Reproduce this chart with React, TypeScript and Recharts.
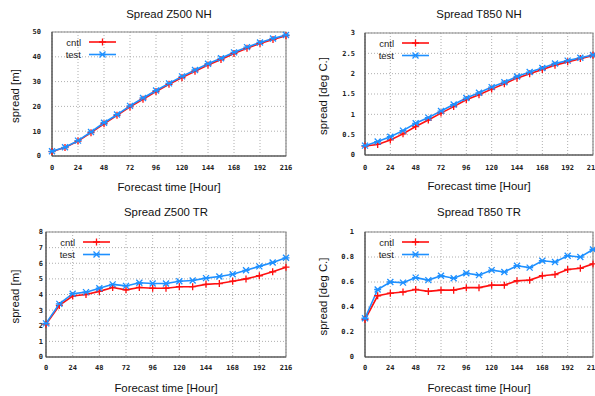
import React from 'react';
import { LineChart, Line, XAxis, YAxis, CartesianGrid, ReferenceArea, Legend } from 'recharts';

const hours = [0, 12, 24, 36, 48, 60, 72, 84, 96, 108, 120, 132, 144, 156, 168, 180, 192, 204, 216];
const xTicks = [0, 24, 48, 72, 96, 120, 144, 168, 192, 216];

const z500nhCntl = [1.8, 3.4, 6.0, 9.4, 13.0, 16.4, 19.8, 22.9, 26.0, 28.9, 31.6, 34.2, 36.7, 38.9, 41.3, 43.4, 45.4, 47.0, 48.5];
const z500nhTest = [1.9, 3.5, 6.2, 9.7, 13.4, 16.7, 20.2, 23.4, 26.4, 29.3, 32.1, 34.7, 37.2, 39.4, 41.8, 43.9, 45.8, 47.4, 48.8];
const z500nhTicks = [0, 10, 20, 30, 40, 50];

const t850nhCntl = [0.22, 0.26, 0.37, 0.52, 0.7, 0.86, 1.03, 1.19, 1.36, 1.48, 1.62, 1.75, 1.89, 2.0, 2.1, 2.21, 2.29, 2.37, 2.45];
const t850nhTest = [0.23, 0.33, 0.45, 0.6, 0.78, 0.92, 1.08, 1.24, 1.4, 1.53, 1.67, 1.79, 1.93, 2.04, 2.14, 2.25, 2.32, 2.39, 2.46];
const t850nhTicks = [0, 0.5, 1, 1.5, 2, 2.5, 3];

const z500trCntl = [2.1, 3.3, 3.9, 4.0, 4.2, 4.45, 4.3, 4.45, 4.4, 4.4, 4.5, 4.5, 4.65, 4.7, 4.85, 5.0, 5.2, 5.45, 5.75];
const z500trTest = [2.15, 3.4, 4.05, 4.15, 4.4, 4.65, 4.55, 4.75, 4.7, 4.7, 4.85, 4.9, 5.05, 5.15, 5.3, 5.55, 5.8, 6.05, 6.35];
const z500trTicks = [0, 1, 2, 3, 4, 5, 6, 7, 8];

const t850trCntl = [0.3, 0.49, 0.51, 0.52, 0.54, 0.525, 0.535, 0.535, 0.555, 0.555, 0.575, 0.575, 0.61, 0.615, 0.65, 0.66, 0.7, 0.71, 0.745];
const t850trTest = [0.31, 0.54, 0.6, 0.595, 0.635, 0.615, 0.65, 0.63, 0.67, 0.655, 0.695, 0.68, 0.73, 0.715, 0.77, 0.76, 0.81, 0.8, 0.86];
const t850trTicks = [0, 0.2, 0.4, 0.6, 0.8, 1];

const RED = '#ff1010';
const BLUE = '#1e90ff';
const SANS = '"Liberation Sans", Arial, sans-serif';
const MONO = '"DejaVu Sans Mono", monospace';

const plusPath = (cx: number, cy: number) => `M${cx - 3.5},${cy}h7M${cx},${cy - 3.5}v7`;
const crossPath = (cx: number, cy: number) => `M${cx - 3},${cy - 3}l6,6M${cx - 3},${cy + 3}l6,-6M${cx - 3.5},${cy}h7`;

const plusDot = (p: any) => {
  if (p.cx == null || p.cy == null) return <g key={`p${p.index}`} />;
  return <path key={`p${p.index}`} d={plusPath(p.cx, p.cy)} stroke={RED} strokeWidth={1.3} fill="none" />;
};
const crossDot = (p: any) => {
  if (p.cx == null || p.cy == null) return <g key={`c${p.index}`} />;
  return <path key={`c${p.index}`} d={crossPath(p.cx, p.cy)} stroke={BLUE} strokeWidth={1.3} fill="none" />;
};

const renderLegend = (props: any) => {
  const payload = props.payload || [];
  return (
    <svg width={70} height={30} style={{ display: 'block' }}>
      {payload.map((e: any, i: number) => {
        const y = 10 + i * 12.5;
        const isCntl = e.value === 'cntl';
        return (
          <g key={i}>
            <text x={29} y={y} textAnchor="end" dominantBaseline="central" fontFamily={SANS} fontSize={9.5} fill="#222">
              {e.value}
            </text>
            <line x1={37} x2={64} y1={y} y2={y} stroke={e.color} strokeWidth={1.6} />
            <path d={isCntl ? plusPath(50.5, y) : crossPath(50.5, y)} stroke={e.color} strokeWidth={1.3} fill="none" />
          </g>
        );
      })}
    </svg>
  );
};

type PanelProps = {
  left: number;
  top: number;
  width: number;
  plotL: number;
  plotT: number;
  plotR: number;
  plotB: number;
  title: string;
  yLabel: string;
  yLabelX: number;
  cntl: number[];
  test: number[];
  yTicks: number[];
  yTickGap: number;
  xTickGap: number;
};

const Panel = (p: PanelProps) => {
  const height = 198;
  const rows = hours.map((h, i) => ({ hour: h, cntl: p.cntl[i], test: p.test[i] }));
  const yMax = p.yTicks[p.yTicks.length - 1];
  const plotCx = (p.plotL + p.plotR) / 2;
  return (
    <div style={{ position: 'absolute', left: p.left, top: p.top, width: p.width, height }}>
      <div
        style={{
          position: 'absolute',
          left: plotCx - 100,
          width: 200,
          top: 7,
          textAlign: 'center',
          fontFamily: SANS,
          fontSize: 11.4,
          lineHeight: '14px',
          color: '#111',
        }}
      >
        {p.title}
      </div>
      <LineChart
        width={p.width}
        height={height}
        data={rows}
        margin={{ top: p.plotT, right: p.width - p.plotR, bottom: 0, left: 0 }}
      >
        <CartesianGrid stroke="#9a9a9a" strokeDasharray="1 2" strokeWidth={0.8} />
        <ReferenceArea x1={0} x2={216} y1={0} y2={yMax} fill="none" stroke="#8a8a8a" strokeWidth={1.2} />
        <XAxis
          dataKey="hour"
          type="number"
          domain={[0, 216]}
          ticks={xTicks}
          interval={0}
          height={height - p.plotB}
          tickSize={0}
          tickMargin={p.xTickGap}
          tickLine={false}
          axisLine={{ stroke: '#444', strokeWidth: 1 }}
          tick={{ fontFamily: MONO, fontSize: 7, fontWeight: 'bold', fill: '#222' }}
          label={{
            value: 'Forecast time [Hour]',
            content: (lp: any) => {
              const vb = lp.viewBox || {};
              return (
                <text
                  x={(vb.x ?? p.plotL) + (vb.width ?? p.plotR - p.plotL) / 2}
                  y={p.plotB + 31}
                  textAnchor="middle"
                  dominantBaseline="central"
                  fontFamily={SANS}
                  fontSize={11.4}
                  fill="#111"
                >
                  Forecast time [Hour]
                </text>
              );
            },
          }}
        />
        <YAxis
          type="number"
          domain={[0, yMax]}
          ticks={p.yTicks}
          interval={0}
          width={p.plotL}
          tickSize={0}
          tickMargin={p.yTickGap}
          tickLine={false}
          axisLine={{ stroke: '#444', strokeWidth: 1 }}
          tick={{ fontFamily: MONO, fontSize: 7, fontWeight: 'bold', fill: '#222' }}
          label={{
            value: p.yLabel,
            content: () => {
              const cy = (p.plotT + p.plotB) / 2 + 2;
              return (
                <text
                  x={p.yLabelX}
                  y={cy}
                  transform={`rotate(-90 ${p.yLabelX} ${cy})`}
                  textAnchor="middle"
                  dominantBaseline="central"
                  fontFamily={SANS}
                  fontSize={11.4}
                  fill="#111"
                >
                  {p.yLabel}
                </text>
              );
            },
          }}
        />
        <Legend
          layout="horizontal"
          verticalAlign="middle"
          align="center"
          content={renderLegend}
          wrapperStyle={{ left: p.plotL, top: p.plotT, width: 70, height: 30 }}
        />
        <Line
          type="linear"
          dataKey="cntl"
          name="cntl"
          stroke={RED}
          strokeWidth={1.6}
          dot={plusDot}
          activeDot={false}
          isAnimationActive={false}
        />
        <Line
          type="linear"
          dataKey="test"
          name="test"
          stroke={BLUE}
          strokeWidth={1.6}
          dot={crossDot}
          activeDot={false}
          isAnimationActive={false}
        />
      </LineChart>
    </div>
  );
};

export default function App() {
  return (
    <div style={{ position: 'absolute', left: 0, top: 0, width: 595, height: 396, background: '#fff', overflow: 'hidden' }}>
      <Panel
        left={0}
        top={0}
        width={297}
        plotL={52}
        plotT={32}
        plotR={286}
        plotB={156}
        title="Spread Z500 NH"
        yLabel="spread [m]"
        yLabelX={15}
        cntl={z500nhCntl}
        test={z500nhTest}
        yTicks={z500nhTicks}
        yTickGap={11}
        xTickGap={9}
      />
      <Panel
        left={297}
        top={0}
        width={298}
        plotL={68}
        plotT={33}
        plotR={296}
        plotB={155}
        title="Spread T850 NH"
        yLabel="spread [deg C.]"
        yLabelX={26}
        cntl={t850nhCntl}
        test={t850nhTest}
        yTicks={t850nhTicks}
        yTickGap={10}
        xTickGap={10}
      />
      <Panel
        left={0}
        top={198}
        width={297}
        plotL={46}
        plotT={34}
        plotR={286}
        plotB={159}
        title="Spread Z500 TR"
        yLabel="spread [m]"
        yLabelX={15}
        cntl={z500trCntl}
        test={z500trTest}
        yTicks={z500trTicks}
        yTickGap={3}
        xTickGap={8}
      />
      <Panel
        left={297}
        top={198}
        width={298}
        plotL={68}
        plotT={34}
        plotR={296}
        plotB={159}
        title="Spread T850 TR"
        yLabel="spread [deg C.]"
        yLabelX={26}
        cntl={t850trCntl}
        test={t850trTest}
        yTicks={t850trTicks}
        yTickGap={11}
        xTickGap={8}
      />
    </div>
  );
}
